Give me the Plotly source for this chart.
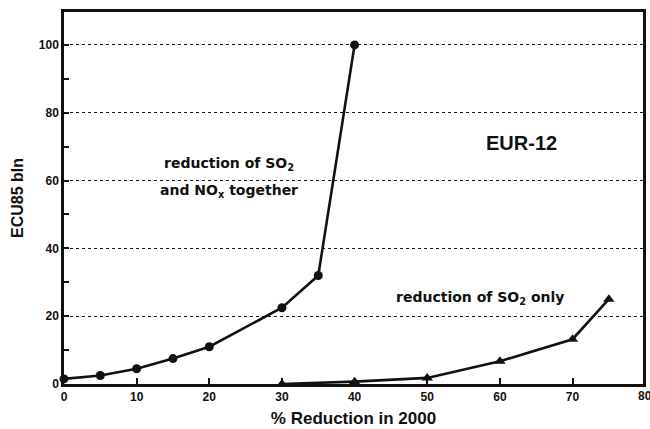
import plotly.graph_objects as go

# Cost of emission reduction, EUR-12
combined_x = [0, 5, 10, 15, 20, 30, 35, 40]
combined_y = [1.5, 2.5, 4.5, 7.5, 11, 22.5, 32, 100]

so2_x = [30, 40, 50, 60, 70, 75]
so2_y = [0, 0.7, 1.8, 6.7, 13.2, 25]

x_ticks = [0, 10, 20, 30, 40, 50, 60, 70, 80]
y_ticks = [0, 20, 40, 60, 80, 100]

FONT = "Liberation Sans"
LABEL_FONT = "DejaVu Sans"
INK = "#111111"

fig = go.Figure()
fig.add_trace(go.Scatter(
    x=combined_x, y=combined_y, mode="lines+markers",
    line=dict(color=INK, width=2.6),
    marker=dict(symbol="circle", size=9, color=INK),
    cliponaxis=False, showlegend=False,
))
fig.add_trace(go.Scatter(
    x=so2_x, y=so2_y, mode="lines+markers",
    line=dict(color=INK, width=2.6),
    marker=dict(symbol="triangle-up", size=10, color=INK),
    cliponaxis=False, showlegend=False,
))

fig.add_annotation(x=63, y=71, text="<b>EUR-12</b>",
                   showarrow=False, xanchor="center",
                   font=dict(family=FONT, size=20, color=INK))
fig.add_annotation(x=22.7, y=65, text="<b>reduction of SO<sub>2</sub></b>",
                   showarrow=False, xanchor="center",
                   font=dict(family=LABEL_FONT, size=14, color=INK))
fig.add_annotation(x=22.7, y=57, text="<b>and NO<sub>x</sub> together</b>",
                   showarrow=False, xanchor="center",
                   font=dict(family=LABEL_FONT, size=14, color=INK))
fig.add_annotation(x=57.3, y=25.5, text="<b>reduction of SO<sub>2</sub> only</b>",
                   showarrow=False, xanchor="center",
                   font=dict(family=LABEL_FONT, size=14, color=INK))

# last x tick label sits at the right frame edge
fig.add_annotation(x=1.0038, y=0, xref="paper", yref="paper",
                   xanchor="center", yanchor="top", yshift=-3,
                   text="<b>80</b>", showarrow=False,
                   font=dict(family=FONT, size=12, color=INK))

fig.update_layout(
    width=650, height=429,
    margin=dict(l=64, r=4, t=12, b=43),
    paper_bgcolor="white", plot_bgcolor="white",
    font=dict(family=FONT, color=INK, size=12, weight="bold"),
)
fig.update_xaxes(
    range=[0, 79.7], tickvals=x_ticks, ticktext=[str(v) for v in x_ticks],
    ticks="inside", ticklen=6, tickwidth=2, tickcolor=INK,
    showline=True, linewidth=2.5, linecolor=INK, mirror=True,
    showgrid=False, zeroline=False,
    title=dict(text="<b>% Reduction in 2000</b>", font=dict(size=17), standoff=9),
    tickfont=dict(size=12),
)
fig.update_yaxes(
    range=[0, 109.7], tickvals=y_ticks, ticktext=[str(v) for v in y_ticks],
    ticks="inside", ticklen=5, tickwidth=2, tickcolor=INK,
    minor=dict(dtick=10, tick0=10, ticks="inside", ticklen=5, tickcolor=INK, showgrid=False),
    showline=True, linewidth=2.5, linecolor=INK, mirror=True,
    showgrid=True, gridcolor=INK, griddash="dot", gridwidth=1.2,
    zeroline=False,
    title=dict(text="<b>ECU85 bln</b>", font=dict(size=16), standoff=12),
    tickfont=dict(size=12),
)

fig.write_html("out.html")
